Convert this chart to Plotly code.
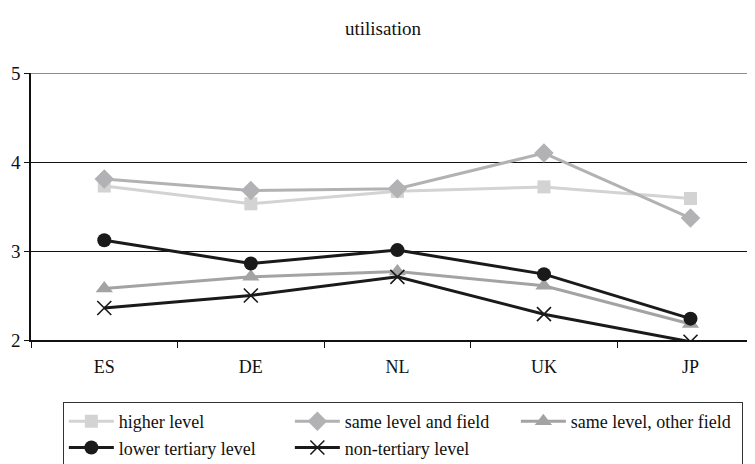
import plotly.graph_objects as go

countries = ["ES", "DE", "NL", "UK", "JP"]
higher_level = [3.73, 3.53, 3.67, 3.72, 3.59]
same_level_field = [3.81, 3.68, 3.70, 4.10, 3.37]
same_level_other = [2.58, 2.71, 2.77, 2.61, 2.18]
lower_tertiary = [3.12, 2.86, 3.01, 2.74, 2.24]
non_tertiary = [2.36, 2.50, 2.71, 2.29, 1.98]

FONT = "Liberation Serif, serif"

series = [
    ("higher level", higher_level, "square", "#d3d3d3", 13, 3),
    ("same level and field", same_level_field, "diamond", "#b2b2b4", 15, 3),
    ("same level, other field", same_level_other, "triangle-up", "#a3a3a3", 15, 3),
    ("lower tertiary level", lower_tertiary, "circle", "#1a1a1a", 14, 3),
    ("non-tertiary level", non_tertiary, "x-thin", "#1a1a1a", 14, 3),
]

fig = go.Figure()
for name, vals, sym, col, ms, lw in series:
    marker = dict(symbol=sym, size=ms, color=col)
    if sym == "x-thin":
        marker["line"] = dict(color="#1a1a1a", width=1.6)
    fig.add_trace(go.Scatter(
        x=countries, y=vals, name=name, mode="lines+markers",
        line=dict(color=col, width=lw), marker=marker,
    ))

fig.add_shape(type="line", xref="paper", yref="y", x0=0, x1=1, y0=5, y1=5,
              line=dict(color="#8c8c8c", width=2))

# page body has an 8px margin, so the figure is sized/placed to compensate
fig.update_layout(
    width=747, height=456,
    margin=dict(l=23, r=0, t=65, b=124, autoexpand=False),
    paper_bgcolor="white", plot_bgcolor="white",
    font=dict(family=FONT, size=17, color="#111"),
    title=dict(text="utilisation", x=0.502, xanchor="center", y=0.956, yanchor="middle",
               font=dict(family=FONT, size=19, color="#111")),
    showlegend=True,
    legend=dict(orientation="h", x=0.044, xanchor="left", y=-0.232, yanchor="top",
                bordercolor="#333", borderwidth=1, bgcolor="white",
                font=dict(family=FONT, size=18, color="#111"),
                entrywidth=166, entrywidthmode="pixels", itemwidth=45,
                tracegroupgap=0),
)
fig.update_xaxes(
    type="category", range=[-0.5, 4.44], showgrid=False,
    showline=True, linecolor="#111", linewidth=1.5,
    ticks="outside", tickson="boundaries", ticklen=6, tickcolor="#111",
    ticklabelstandoff=10, tickfont=dict(family=FONT, size=18),
)
fig.update_yaxes(
    range=[2, 5], dtick=1, showgrid=True, gridcolor="#111", gridwidth=1,
    showline=True, linecolor="#111", linewidth=1.5, zeroline=False,
    ticks="outside", ticklen=5, tickcolor="#111",
    tickfont=dict(family=FONT, size=19),
)

fig.write_html("out.html")
